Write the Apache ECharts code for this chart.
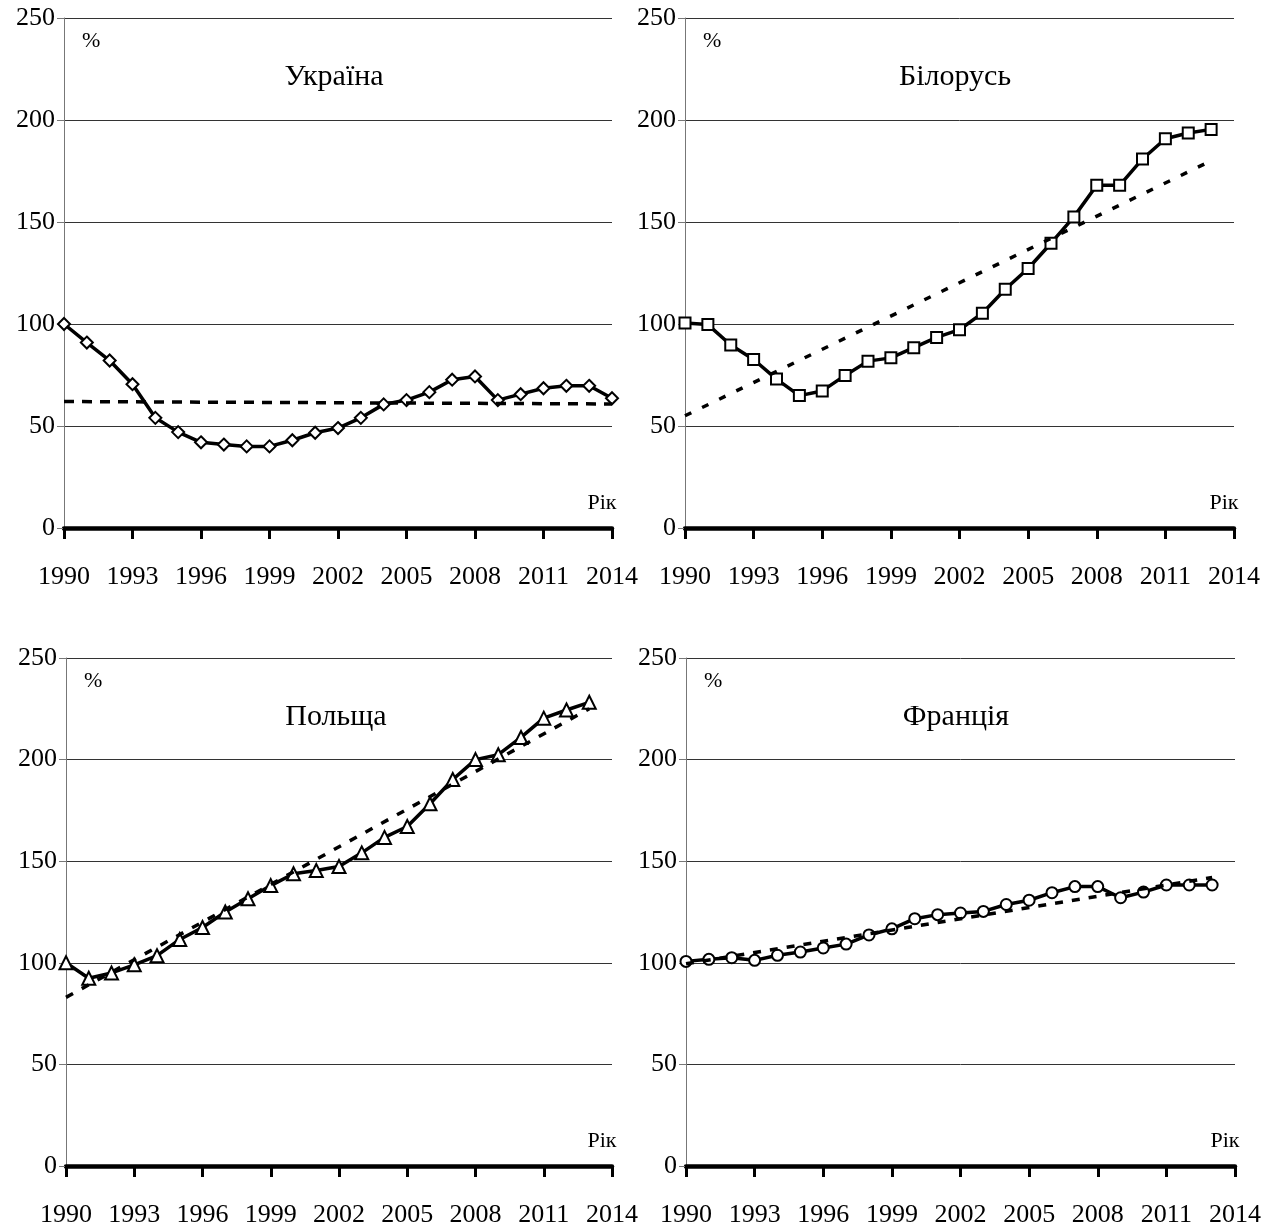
<!DOCTYPE html>
<html>
<head>
<meta charset="utf-8">
<script src="https://cdn.jsdelivr.net/npm/echarts@6/dist/echarts.min.js"></script>
<style>
html,body{margin:0;padding:0;background:#fff;}
#chart{width:1275px;height:1229px;}
</style>
</head>
<body>
<div id="chart"></div>
<script>
// ---- data ----
const years = ['1990','1991','1992','1993','1994','1995','1996','1997','1998','1999','2000','2001','2002','2003','2004','2005','2006','2007','2008','2009','2010','2011','2012','2013','2014'];
const yTicks = [0, 50, 100, 150, 200, 250];

const panelTitles = ['Україна', 'Білорусь', 'Польща', 'Франція'];

const ukraine = [100, 90.9, 82.1, 70.5, 54, 47, 42, 40.9, 40, 40, 43, 46.7, 49, 54, 60.6, 62.7, 66.6, 72.7, 74.3, 62.7, 65.6, 68.5, 69.7, 69.7, 63.6];
const belarus = [100.5, 99.7, 89.7, 82.6, 73, 64.9, 67.2, 74.8, 81.8, 83.4, 88.4, 93.4, 97.2, 105.3, 117, 127.2, 139.6, 152.5, 168, 168, 180.9, 190.8, 193.6, 195.4];
const poland = [100, 92.4, 95, 99, 103.5, 111.5, 117.4, 125, 131.5, 138, 143.8, 145.4, 147.4, 154.1, 161.7, 167.1, 178.3, 190.2, 200, 202.4, 210.9, 220.4, 224.4, 228.2];
const france = [100.7, 101.7, 102.5, 101.2, 103.7, 105.3, 107.3, 109.2, 113.7, 116.7, 121.7, 123.7, 124.5, 125.3, 128.7, 130.8, 134.5, 137.5, 137.5, 132, 134.8, 138.3, 138.3, 138.3];

// trend lines: [start year, end year] and [start value, end value]
const ukraineTrendYears = ['1990', '2014'];
const ukraineTrend = [62, 60.8];
const belarusTrendYears = ['1990', '2013'];
const belarusTrend = [55, 180];
const polandTrendYears = ['1990', '2013'];
const polandTrend = [83, 225];
const franceTrendYears = ['1990', '2013'];
const franceTrend = [99.5, 142];

// ---- layout ----
const FONT = "'Liberation Serif','Times New Roman',serif";
const grids = [
  {left: 64, top: 18, width: 548, height: 510},
  {left: 685, top: 18, width: 549, height: 510},
  {left: 66, top: 658, width: 546, height: 508},
  {left: 686, top: 658, width: 549, height: 508}
];

const chart = echarts.init(document.getElementById('chart'), null, {renderer: 'canvas'});

const xAxes = grids.map((g, i) => ({
  type: 'category',
  gridIndex: i,
  data: years,
  boundaryGap: false,
  axisLine: {show: true, lineStyle: {color: '#000', width: 4.5}},
  axisTick: {show: true, interval: 2, length: 11, lineStyle: {color: '#000', width: 3}},
  axisLabel: {interval: 2, margin: 36, color: '#000', fontSize: 26, fontFamily: FONT},
  splitLine: {show: false}
}));

const yAxes = grids.map((g, i) => ({
  type: 'value',
  gridIndex: i,
  min: yTicks[0],
  max: yTicks[yTicks.length - 1],
  interval: 50,
  axisLine: {show: true, lineStyle: {color: '#777', width: 1}},
  axisTick: {show: true, length: 7, lineStyle: {color: '#777', width: 1}},
  axisLabel: {margin: 9, color: '#000', fontSize: 26, fontFamily: FONT},
  splitLine: {show: true, lineStyle: {color: '#333', width: 1}}
}));

const dataSets = [ukraine, belarus, poland, france];
const symbols = ['emptyDiamond', 'emptyRect', 'emptyTriangle', 'emptyCircle'];
const symbolSizes = [12, 11, 13, 11];
const trends = [
  [ukraineTrendYears, ukraineTrend],
  [belarusTrendYears, belarusTrend],
  [polandTrendYears, polandTrend],
  [franceTrendYears, franceTrend]
];
const dashes = [[10, 8], [7, 12], [8, 10], [8, 9]];

const series = [];
dataSets.forEach((d, i) => {
  series.push({
    type: 'line',
    xAxisIndex: i,
    yAxisIndex: i,
    data: d,
    symbol: symbols[i],
    symbolSize: symbolSizes[i],
    showAllSymbol: true,
    lineStyle: {color: '#000', width: 3.5},
    itemStyle: {color: '#000', borderWidth: 1.6},
    z: 3
  });
  const t = trends[i];
  series.push({
    type: 'line',
    xAxisIndex: i,
    yAxisIndex: i,
    data: t[0].map((yr, k) => [yr, t[1][k]]),
    symbol: 'none',
    lineStyle: {color: '#000', width: 3.5, type: dashes[i]},
    z: 4
  });
});

const graphics = [];
grids.forEach((g, i) => {
  graphics.push({
    type: 'text', left: g.left + 18, top: g.top + 12,
    style: {text: '%', fontSize: 22, fontFamily: FONT, fill: '#000'}
  });
  graphics.push({
    type: 'text',
    style: {text: panelTitles[i], x: g.left + 270, y: g.top + 59, fontSize: 30, fontFamily: FONT, fill: '#000',
      textAlign: 'center', textVerticalAlign: 'middle', textBaseline: 'middle'}
  });
  graphics.push({
    type: 'text',
    style: {text: 'Рік', x: g.left + g.width - 10, y: g.top + g.height - 25, fontSize: 22, fontFamily: FONT, fill: '#000',
      textAlign: 'center', textVerticalAlign: 'middle', textBaseline: 'middle'}
  });
});

chart.setOption({
  animation: false,
  backgroundColor: '#fff',
  grid: grids,
  xAxis: xAxes,
  yAxis: yAxes,
  series: series,
  graphic: graphics
});
</script>
</body>
</html>
